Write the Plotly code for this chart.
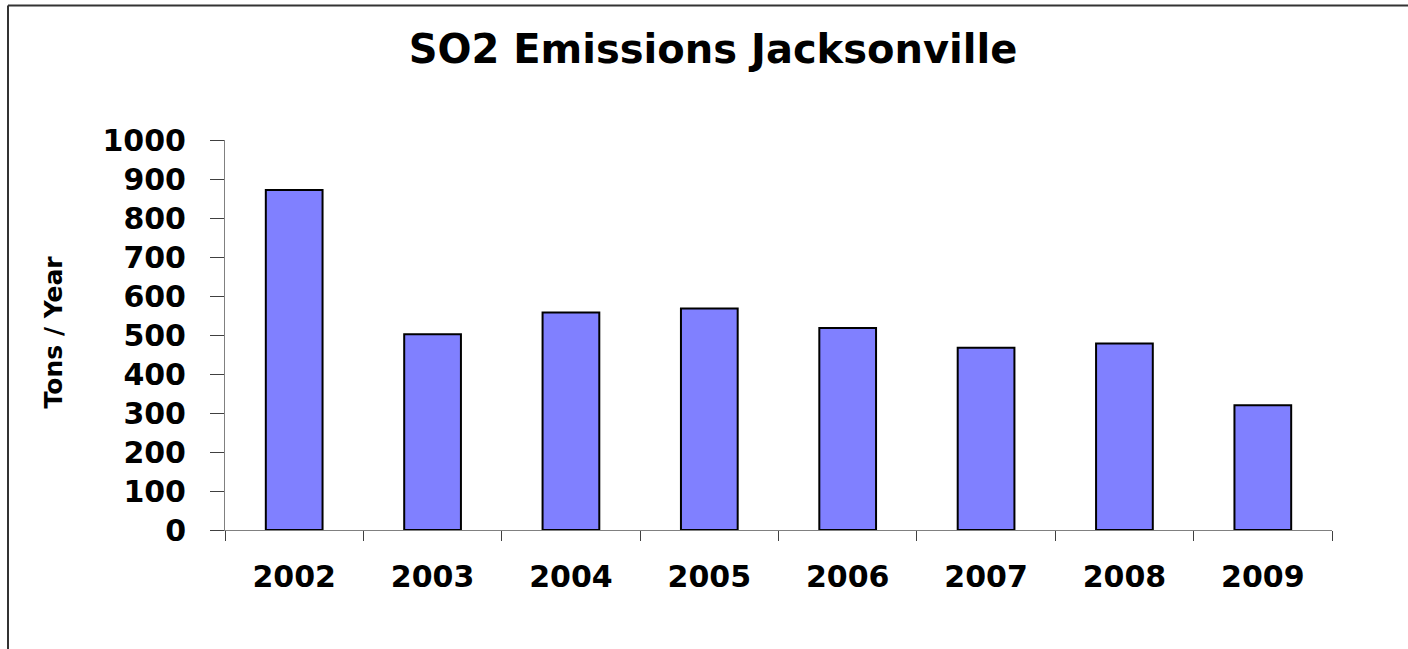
import plotly.graph_objects as go

years = ["2002", "2003", "2004", "2005", "2006", "2007", "2008", "2009"]
so2_tons = [872, 502, 558, 568, 518, 467, 478, 320]
y_ticks = [0, 100, 200, 300, 400, 500, 600, 700, 800, 900, 1000]

title_text = "SO2 Emissions Jacksonville"
y_title = "Tons / Year"

FONT = "DejaVu Sans"

fig = go.Figure()
fig.add_trace(go.Bar(
    x=years,
    y=so2_tons,
    marker=dict(color="#8080FF", line=dict(color="#000000", width=2)),
    hoverinfo="x+y",
))

W, H = 1408, 649
# target screen coordinates of plot area (body margin removed via post_script)
SL, SR, ST, SB = 225, 1332, 139.5, 529.7
L = SL
T = ST
R = W - SR
B = H - SB
pw = W - L - R
ph = H - T - B


def px(sx):
    return (sx - SL) / pw


def py(sy):
    return (SB - sy) / ph


border = dict(color="#333333", width=2)

fig.update_layout(
    width=W, height=H,
    margin=dict(l=L, r=R, t=T, b=B, pad=0),
    paper_bgcolor="white",
    plot_bgcolor="white",
    showlegend=False,
    bargap=0.59,
    font=dict(family=FONT, color="black"),
    title=dict(
        text="<b>" + title_text + "</b>",
        font=dict(family=FONT, size=40, color="black"),
        x=713 / W, xanchor="center",
        y=1 - 49 / H, yanchor="middle",
    ),
    xaxis=dict(
        type="category",
        tickson="boundaries",
        ticks="outside",
        ticklen=10,
        tickwidth=1,
        tickcolor="#404040",
        showline=True,
        linecolor="#808080",
        linewidth=1,
        showgrid=False,
        zeroline=False,
        tickfont=dict(family=FONT, size=30, color="black", weight="bold"),
        ticklabelstandoff=20,
    ),
    yaxis=dict(
        range=[0, 1000],
        tickmode="array",
        tickvals=y_ticks,
        ticktext=[str(v) for v in y_ticks],
        ticks="outside",
        ticklen=14,
        tickwidth=1,
        tickcolor="#404040",
        showline=True,
        linecolor="#808080",
        linewidth=1,
        showgrid=False,
        zeroline=False,
        tickfont=dict(family=FONT, size=30, color="black", weight="bold"),
        ticklabelstandoff=18,
    ),
    annotations=[dict(
        text="<b>" + y_title + "</b>",
        textangle=-90,
        xref="paper", yref="paper",
        x=px(53), y=py(332),
        xanchor="center", yanchor="middle",
        showarrow=False,
        font=dict(family=FONT, size=25, color="black"),
    )],
    shapes=[
        dict(type="line", xref="paper", yref="paper",
             x0=px(8), x1=px(W), y0=py(5), y1=py(5),
             line=border, layer="below"),
        dict(type="line", xref="paper", yref="paper",
             x0=px(8), x1=px(8), y0=py(5), y1=py(H),
             line=border, layer="below"),
    ],
)

fig.write_html(
    "out.html",
    config={"displayModeBar": False},
    post_script="document.body.style.margin='0px';document.body.style.padding='0px';document.body.style.overflow='hidden';",
)
